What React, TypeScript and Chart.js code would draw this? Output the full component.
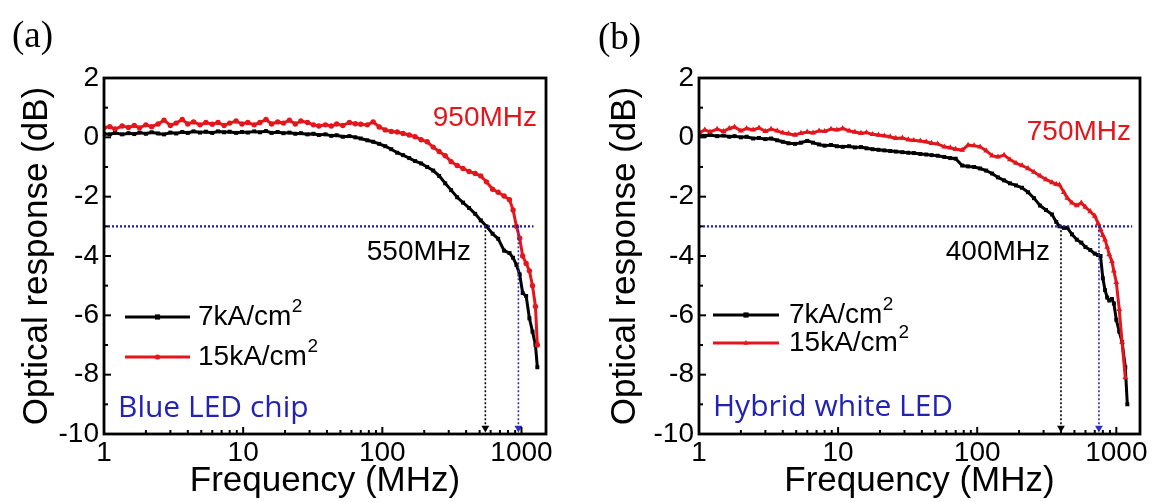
import React, { useEffect, useRef } from "react";
import { Chart, registerables } from "chart.js";

Chart.register(...registerables);

// ---------------- data ----------------
const FREQ_A = [
  1, 1.1, 1.2, 1.35, 1.5, 1.65, 1.8, 2, 2.2, 2.45,
  2.7, 3, 3.3, 3.65, 4, 4.4, 4.9, 5.4, 6, 6.6,
  7.3, 8, 8.9, 9.8, 10.8, 12, 13.2, 14.6, 16, 17.7,
  19.5, 21.5, 23.7, 26, 29, 32, 35, 39, 43, 47,
  52, 58, 64, 70, 78, 86, 95, 105, 116, 128,
  141, 156, 172, 190, 210, 232, 256, 283, 312, 345,
  380, 420, 465, 510, 560, 620, 680, 750, 820, 870,
  920, 970, 1020, 1080, 1140, 1200, 1260, 1300,
];
const BLUE_7KA = [
  0.12, 0.1, 0.15, 0.1, 0.14, 0.11, 0.16, 0.12, 0.17, 0.13,
  0.1, 0.16, 0.13, 0.18, 0.15, 0.2, 0.16, 0.19, 0.15, 0.2,
  0.17, 0.19, 0.15, 0.18, 0.16, 0.2, 0.17, 0.21, 0.15, 0.18,
  0.14, 0.16, 0.12, 0.14, 0.1, 0.12, 0.08, 0.1, 0.05, 0.07,
  0.02, 0.04, 0.0, -0.04, -0.1, -0.15, -0.22, -0.3, -0.4, -0.52,
  -0.6, -0.7, -0.8, -0.88, -1.0, -1.12, -1.3, -1.55, -1.78, -2.02,
  -2.2, -2.38, -2.58, -2.8, -3.0, -3.25, -3.42, -3.82, -3.9, -4.06,
  -4.3, -4.62, -5.25, -5.35, -6.1, -6.55, -7.0, -7.75,
];
const BLUE_15KA = [
  0.32, 0.36, 0.28, 0.38, 0.33, 0.4, 0.32, 0.42, 0.36, 0.45,
  0.58, 0.4, 0.48, 0.6, 0.45, 0.52, 0.42, 0.5, 0.44, 0.5,
  0.4, 0.48, 0.55, 0.45, 0.5, 0.42, 0.5, 0.6, 0.45, 0.52,
  0.48, 0.58, 0.45, 0.55, 0.5, 0.42, 0.38, 0.42, 0.38, 0.45,
  0.4, 0.5, 0.46, 0.44, 0.42, 0.52, 0.35, 0.25, 0.2, 0.18,
  0.13, 0.08, 0.02, -0.08, -0.15, -0.33, -0.48, -0.62, -0.82, -0.95,
  -1.05, -1.15, -1.22, -1.3, -1.5, -1.75, -1.85, -1.98, -2.1, -2.45,
  -3.0, -3.4, -4.0, -4.25, -4.5, -5.0, -5.7, -7.0,
];

const FREQ_B = [
  1, 1.1, 1.2, 1.35, 1.5, 1.65, 1.8, 2, 2.2, 2.45,
  2.7, 3, 3.3, 3.65, 4, 4.4, 4.9, 5.4, 6, 6.6,
  7.3, 8, 8.9, 9.8, 10.8, 12, 13.2, 14.6, 16, 17.7,
  19.5, 21.5, 23.7, 26, 29, 32, 35, 39, 43, 47,
  52, 58, 64, 70, 78, 86, 95, 105, 116, 128,
  141, 156, 172, 190, 210, 232, 256, 283, 312, 345,
  370, 390, 420, 445, 480, 520, 560, 600, 650, 700,
  740, 770, 800, 830, 860, 890, 930, 960, 1000, 1050,
  1100, 1160, 1200,
];
const WHITE_7KA = [
  0.1, 0.05, 0.08, 0.04, 0.06, 0.02, 0.04, 0.0, 0.02, -0.04,
  -0.02, -0.06, -0.04, -0.1, -0.15, -0.2, -0.22, -0.18, -0.12, -0.18,
  -0.24, -0.28, -0.26, -0.3, -0.32, -0.3, -0.34, -0.33, -0.37, -0.4,
  -0.42, -0.44, -0.46, -0.48, -0.5, -0.52, -0.53, -0.56, -0.58, -0.6,
  -0.62, -0.66, -0.7, -0.72, -0.95, -0.98, -1.0, -1.05, -1.12, -1.22,
  -1.35, -1.45, -1.55, -1.62, -1.7, -1.85, -2.05, -2.3, -2.45, -2.6,
  -2.85, -3.0, -3.05, -3.05, -3.27, -3.45, -3.55, -3.7, -3.8, -3.92,
  -3.97, -4.0, -4.75, -5.15, -5.4, -5.5, -5.45, -5.6, -6.15, -6.55,
  -6.9, -7.75, -9.0,
];
const WHITE_15KA = [
  0.15, 0.25, 0.18, 0.28, 0.2, 0.3, 0.35, 0.22, 0.3, 0.25,
  0.32, 0.2, 0.28, 0.22, 0.15, 0.12, 0.08, 0.14, 0.18, 0.15,
  0.22, 0.2, 0.28, 0.25, 0.3, 0.22, 0.18, 0.14, 0.16, 0.1,
  0.08, 0.05, 0.02, -0.03, -0.02, -0.08, -0.1, -0.12, -0.15, -0.2,
  -0.22, -0.32, -0.35, -0.4, -0.43, -0.26, -0.28, -0.32, -0.45, -0.62,
  -0.66, -0.6, -0.75, -0.87, -0.95, -1.05, -1.17, -1.3, -1.42, -1.52,
  -1.58, -1.6, -1.85, -2.05, -2.21, -2.3, -2.21, -2.35, -2.5, -2.65,
  -2.9, -3.1, -3.3, -3.45, -3.7, -3.95, -4.18, -4.5, -4.89, -5.8,
  -6.9, -8.1, null,
];

const SERIES_LABELS = ["7kA/cm²", "15kA/cm²"];
const CUTOFF_A = [550, 950]; // 7kA, 15kA
const CUTOFF_B = [400, 750];
const REF_LEVEL = -3;
const REF_END_A = 1220;
const REF_END_B = 1300;
const ARROW_Y = -9.8;
const X_TICKS = [1, 10, 100, 1000];
const Y_TICKS = [-10, -8, -6, -4, -2, 0, 2];

// ---------------- styles ----------------
const FONT = "'Liberation Sans', Arial, sans-serif";
const RED = "#e3161b";
const NAVY = "#1b1ba0";
const BLUE_TXT = "#2222b4";

type Cfg = {
  left: number;
  tag: string;
  freq: number[];
  s7: (number | null)[];
  s15: (number | null)[];
  cutoffs: number[];
  refEnd: number;
  xMax: number;
  redStyle: "circle" | "triangle";
  yAxisW: number;
  padRight: number;
  yTitlePad: number;
  legend: { x0: number; x1: number; tx: number; y: number[] };
  redText: { right: number; y: number };
  blackText: { right: number; y: number };
  blueText: { text: string; x: number; y: number };
  tagPos: { x: number; y: number };
};

const PANELS: Cfg[] = [
  {
    left: 0,
    tag: "(a)",
    freq: FREQ_A,
    s7: BLUE_7KA,
    s15: BLUE_15KA,
    cutoffs: CUTOFF_A,
    refEnd: REF_END_A,
    xMax: 1500,
    redStyle: "circle",
    yAxisW: 104,
    padRight: 30,
    yTitlePad: 16,
    legend: { x0: 125, x1: 190, tx: 198, y: [317, 357] },
    redText: { right: 537, y: 118 },
    blackText: { right: 471, y: 252 },
    blueText: { text: "Blue LED chip", x: 118, y: 408 },
    tagPos: { x: 12, y: 37 },
  },
  {
    left: 576,
    tag: "(b)",
    freq: FREQ_B,
    s7: WHITE_7KA,
    s15: WHITE_15KA,
    cutoffs: CUTOFF_B,
    refEnd: REF_END_B,
    xMax: 1480,
    redStyle: "triangle",
    yAxisW: 123,
    padRight: 12,
    yTitlePad: 28,
    legend: { x0: 137, x1: 203, tx: 213, y: [315, 343] },
    redText: { right: 555, y: 132 },
    blackText: { right: 474, y: 252 },
    blueText: { text: "Hybrid white LED", x: 137, y: 407 },
    tagPos: { x: 22, y: 39 },
  },
];

function drawMarker(ctx: CanvasRenderingContext2D, style: string, x: number, y: number, r: number, color: string) {
  ctx.save();
  ctx.fillStyle = color;
  ctx.beginPath();
  if (style === "rect") {
    ctx.rect(x - r, y - r, 2 * r, 2 * r);
  } else if (style === "circle") {
    ctx.arc(x, y, r, 0, Math.PI * 2);
  } else {
    ctx.moveTo(x, y - r * 1.2);
    ctx.lineTo(x + r * 1.05, y + r * 0.65);
    ctx.lineTo(x - r * 1.05, y + r * 0.65);
    ctx.closePath();
  }
  ctx.fill();
  ctx.restore();
}

function drawSup(ctx: CanvasRenderingContext2D, text: string, x: number, y: number, color: string) {
  const base = text.replace("²", "");
  ctx.save();
  ctx.fillStyle = color;
  ctx.textBaseline = "middle";
  ctx.textAlign = "left";
  ctx.font = `28px ${FONT}`;
  ctx.fillText(base, x, y);
  const w = ctx.measureText(base).width;
  if (text.includes("²")) {
    ctx.font = `19px ${FONT}`;
    ctx.fillText("2", x + w + 0.5, y - 10);
  }
  ctx.restore();
}

function Panel({ cfg }: { cfg: Cfg }) {
  const ref = useRef<HTMLCanvasElement | null>(null);

  useEffect(() => {
    if (!ref.current) return;
    const pts = (xs: number[], ys: (number | null)[]) =>
      xs.map((x, i) => ({ x, y: ys[i] })).filter((p) => p.y !== null && p.y !== undefined) as { x: number; y: number }[];

    const deco = {
      id: "deco",
      afterDatasetsDraw(chart: any) {
        const ctx: CanvasRenderingContext2D = chart.ctx;
        const { left, right, top, bottom } = chart.chartArea;
        const xs = chart.scales.x;
        const ys = chart.scales.y;
        ctx.save();
        ctx.strokeStyle = "#000";
        ctx.lineWidth = 2.8;
        ctx.strokeRect(left, top, right - left, bottom - top);
        ctx.lineWidth = 2;
        // x inner ticks
        for (let dec = 1; dec <= 1000; dec *= 10) {
          for (let m = 1; m <= 9; m++) {
            const v = dec * m;
            if (v > cfg.xMax) continue;
            const px = xs.getPixelForValue(v);
            const len = m === 1 ? 7 : 4;
            ctx.beginPath();
            ctx.moveTo(px, bottom);
            ctx.lineTo(px, bottom - len);
            ctx.stroke();
          }
        }
        // y inner ticks
        for (let v = -10; v <= 2; v += 1) {
          const py = ys.getPixelForValue(v);
          const len = v % 2 === 0 ? 7 : 4;
          ctx.beginPath();
          ctx.moveTo(left, py);
          ctx.lineTo(left + len, py);
          ctx.stroke();
        }
        ctx.restore();
      },
      afterDraw(chart: any) {
        const ctx: CanvasRenderingContext2D = chart.ctx;
        const ds = chart.data.datasets;
        // legend
        for (let i = 0; i < 2; i++) {
          const d = ds[i];
          const y = cfg.legend.y[i];
          ctx.save();
          ctx.strokeStyle = d.borderColor;
          ctx.lineWidth = 2.8;
          ctx.beginPath();
          ctx.moveTo(cfg.legend.x0, y);
          ctx.lineTo(cfg.legend.x1, y);
          ctx.stroke();
          ctx.restore();
          drawMarker(ctx, d.pointStyle, (cfg.legend.x0 + cfg.legend.x1) / 2, y, 2.6, d.borderColor);
          drawSup(ctx, d.label, cfg.legend.tx, y, "#000");
        }
        ctx.save();
        ctx.textBaseline = "middle";
        // cutoff labels
        ctx.font = `28px ${FONT}`;
        ctx.textAlign = "right";
        ctx.fillStyle = RED;
        ctx.fillText(`${cfg.cutoffs[1]}MHz`, cfg.redText.right, cfg.redText.y);
        ctx.fillStyle = "#000";
        ctx.fillText(`${cfg.cutoffs[0]}MHz`, cfg.blackText.right, cfg.blackText.y);
        // sample label
        ctx.textAlign = "left";
        ctx.font = `30px 'Open Sans', 'Noto Sans', sans-serif`;
        ctx.fillStyle = BLUE_TXT;
        ctx.fillText(cfg.blueText.text, cfg.blueText.x, cfg.blueText.y);
        // panel tag
        ctx.font = `37px 'Liberation Serif', 'Times New Roman', serif`;
        ctx.fillStyle = "#000";
        ctx.fillText(cfg.tag, cfg.tagPos.x, cfg.tagPos.y);
        ctx.restore();
      },
    };

    const chart = new Chart(ref.current, {
      type: "line",
      data: {
        datasets: [
          {
            label: SERIES_LABELS[0],
            data: pts(cfg.freq, cfg.s7),
            borderColor: "#000",
            backgroundColor: "#000",
            borderWidth: 3,
            pointStyle: "rect",
            pointRadius: 2.8,
            pointBorderWidth: 0,
            tension: 0,
            order: 3,
          },
          {
            label: SERIES_LABELS[1],
            data: pts(cfg.freq, cfg.s15),
            borderColor: RED,
            backgroundColor: RED,
            borderWidth: 3,
            pointStyle: cfg.redStyle,
            pointRadius: cfg.redStyle === "triangle" ? 3.4 : 2.7,
            pointBorderWidth: 0,
            tension: 0,
            order: 2,
          },
          {
            label: "-3dB",
            data: [
              { x: 1, y: REF_LEVEL },
              { x: cfg.refEnd, y: REF_LEVEL },
            ],
            borderColor: NAVY,
            borderWidth: 2.2,
            borderDash: [2, 2],
            pointRadius: 0,
            order: 1,
          },
          {
            label: "f7",
            data: [
              { x: cfg.cutoffs[0], y: REF_LEVEL },
              { x: cfg.cutoffs[0], y: ARROW_Y },
            ],
            borderColor: "#000",
            backgroundColor: "#000",
            borderWidth: 1.6,
            borderDash: [2, 2],
            pointRadius: [0, 4.5],
            pointStyle: "triangle",
            pointRotation: 180,
            pointBorderWidth: 0,
            order: 1,
          },
          {
            label: "f15",
            data: [
              { x: cfg.cutoffs[1], y: REF_LEVEL },
              { x: cfg.cutoffs[1], y: ARROW_Y },
            ],
            borderColor: "#2a2ad0",
            backgroundColor: "#2a2ad0",
            borderWidth: 1.6,
            borderDash: [2, 2],
            pointRadius: [0, 4.5],
            pointStyle: "triangle",
            pointRotation: 180,
            pointBorderWidth: 0,
            order: 1,
          },
        ] as any,
      },
      options: {
        animation: false,
        responsive: false,
        layout: { padding: { top: 78, right: cfg.padRight, left: 0, bottom: 0 } },
        plugins: { legend: { display: false }, tooltip: { enabled: false } },
        scales: {
          x: {
            type: "logarithmic",
            min: 1,
            max: cfg.xMax,
            grid: { display: false, drawTicks: false },
            border: { display: false },
            afterBuildTicks: (s: any) => {
              s.ticks = X_TICKS.map((v) => ({ value: v }));
            },
            afterFit: (s: any) => {
              s.height = 68;
            },
            ticks: {
              color: "#000",
              autoSkip: false,
              maxRotation: 0,
              padding: 2,
              font: { family: FONT, size: 28, lineHeight: 1.2 },
              callback: (v: any) => String(v),
            },
            title: {
              display: true,
              text: "Frequency (MHz)",
              color: "#000",
              font: { family: FONT, size: 35, lineHeight: 1.2 },
              padding: { top: 0, bottom: 0 },
            },
          },
          y: {
            min: -10,
            max: 2,
            grid: { display: false, drawTicks: false },
            border: { display: false },
            afterBuildTicks: (s: any) => {
              s.ticks = Y_TICKS.map((v) => ({ value: v }));
            },
            afterFit: (s: any) => {
              s.width = cfg.yAxisW;
            },
            ticks: {
              color: "#000",
              padding: 5,
              font: { family: FONT, size: 28, lineHeight: 1.2 },
              callback: (v: any) => String(v),
            },
            title: {
              display: true,
              text: "Optical response (dB)",
              color: "#000",
              font: { family: FONT, size: 35, lineHeight: 1.2 },
              padding: { top: cfg.yTitlePad, bottom: 0 },
            },
          },
        },
      } as any,
      plugins: [deco as any],
    });
    return () => chart.destroy();
  }, [cfg]);

  return (
    <canvas
      ref={ref}
      width={576}
      height={502}
      style={{ position: "absolute", left: cfg.left, top: 0, width: 576, height: 502 }}
    />
  );
}

export default function App() {
  return (
    <div style={{ position: "absolute", left: 0, top: 0, width: 1152, height: 502, background: "#fff", overflow: "hidden" }}>
      {PANELS.map((p) => (
        <Panel key={p.tag} cfg={p} />
      ))}
    </div>
  );
}
